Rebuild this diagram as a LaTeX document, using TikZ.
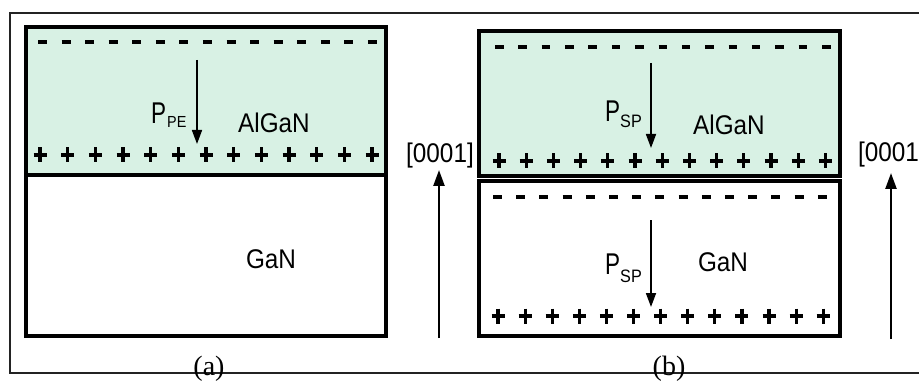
\documentclass[tikz,border=0pt]{standalone}
\usepackage{fontspec}
\setmainfont{Liberation Sans}
\newfontfamily\narrowsans[FakeStretch=0.9]{Liberation Sans}
\newfontfamily\capfont{Liberation Serif}
\usetikzlibrary{arrows.meta}
\definecolor{layergreen}{RGB}{216,241,228}
\definecolor{framegray}{RGB}{35,35,35}
\newcommand{\polP}{\scalebox{0.75}[1]{P}}

\begin{document}
\begin{tikzpicture}[x=1pt,y=-1pt,
  slab/.style={draw=black,line width=4pt},
  iface/.style={line width=3.2pt},
  charge/.style={line width=3.2pt},
  big/.style={font=\narrowsans\fontsize{27}{30}\selectfont,inner sep=0pt},
  pee/.style={font=\fontsize{30}{32}\selectfont,inner sep=0pt},
  subs/.style={font=\narrowsans\fontsize{18}{20}\selectfont,inner sep=0pt},
  polarrow/.style={line width=1.7pt,-{Triangle[length=14pt,width=10pt]}},
  axisarrow/.style={line width=2.4pt,-{Triangle[length=16pt,width=11pt]}},
  caplbl/.style={font=\capfont\fontsize{28}{30}\selectfont,inner sep=0pt}
]
\clip (0,0) rectangle (919,385);
\useasboundingbox (0,0) rectangle (919,385);

% outer frame (open to the right)
\draw[framegray,line width=1.5pt] (930,13) -- (10,13) -- (10,373) -- (930,373);

% ---------- (a) strained AlGaN on GaN ----------
\fill[layergreen] (26,27) rectangle (386,175);
\draw[slab] (26,27) rectangle (386,336);
\draw[iface] (26,175) -- (386,175);
\foreach \i in {0,...,14} {
  \draw[charge] ({38+\i*23.57},42) -- ++(9,0);
}
\foreach \i in {0,...,12} {
  \draw[charge] ({40+\i*27.67-6.5},155) -- ++(13,0);
  \draw[charge] ({40+\i*27.67},147.5) -- ++(0,15);
}
\coordinate (pa1) at (197,60);
\coordinate (pa2) at (197,144);
\draw[polarrow] (pa1) -- (pa2);
\node[pee,anchor=base west] (ppa) at (151,124) {\polP};
\node[subs,font=\narrowsans\fontsize{16}{18}\selectfont,anchor=base west] (ppasub) at (167,128) {PE};
\node[big,anchor=base] (alganA) at (274,133) {AlGaN};
\node[big,anchor=base] (ganA) at (271,269) {GaN};
\node[caplbl] (capA) at (209,369) {(a)};

% growth direction between the panels
\node[big,anchor=base] (dirA) at (440,163) {[0001]};
\coordinate (axA0) at (439,338);
\coordinate (axA1) at (439,170);
\draw[axisarrow] (axA0) -- (axA1);

% ---------- (b) spontaneous polarization in both layers ----------
\fill[layergreen] (479,31) rectangle (840,176);
\draw[slab] (479,31) rectangle (840,176);
\draw[slab] (479,181) rectangle (840,336);
\foreach \i in {0,...,14} {
  \draw[charge] ({495+\i*23.36},47) -- ++(8.5,0);
  \draw[charge] ({493+\i*23.2},197) -- ++(9,0);
}
\foreach \i in {0,...,12} {
  \draw[charge] ({499+\i*27.2-6.5},161) -- ++(13,0);
  \draw[charge] ({499+\i*27.2},153.5) -- ++(0,15);
  \draw[charge] ({498+\i*27.1-6.5},316) -- ++(13,0);
  \draw[charge] ({498+\i*27.1},308.5) -- ++(0,15);
}
\coordinate (pb1) at (651,63);
\coordinate (pb2) at (651,148);
\draw[polarrow] (pb1) -- (pb2);
\coordinate (pc1) at (651,220);
\coordinate (pc2) at (651,307);
\draw[polarrow] (pc1) -- (pc2);
\node[pee,anchor=base west] (ppb) at (605,122) {\polP};
\node[subs,anchor=base west] (ppbsub) at (620,128) {SP};
\node[big,anchor=base] (alganB) at (729,135) {AlGaN};
\node[pee,anchor=base west] (ppc) at (605,274) {\polP};
\node[subs,anchor=base west] (ppcsub) at (620,282) {SP};
\node[big,anchor=base] (ganB) at (723,271) {GaN};
\node[caplbl] (capB) at (669,369) {(b)};

\node[big,anchor=base west] (dirB) at (858,162) {[0001};
\coordinate (axB0) at (891,339);
\coordinate (axB1) at (891,173);
\draw[axisarrow] (axB0) -- (axB1);
\end{tikzpicture}
\end{document}
